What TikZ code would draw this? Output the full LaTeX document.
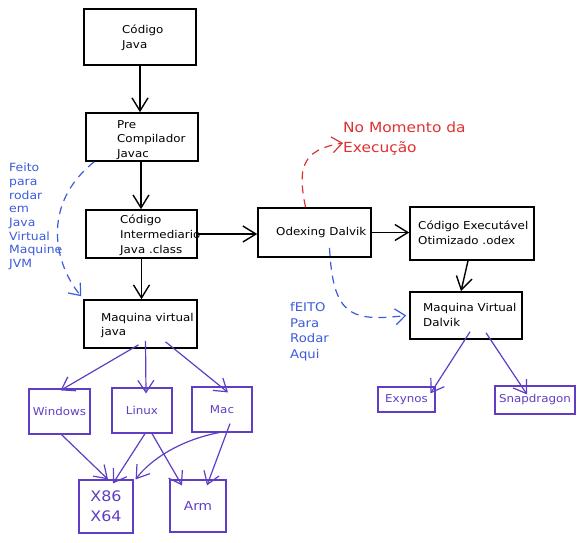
\documentclass[tikz,border=0pt]{standalone}
\usepackage{fontspec}
\setmainfont[FakeStretch=1.1]{DejaVu Sans}
\usetikzlibrary{arrows.meta}
\definecolor{vio}{HTML}{5F3DC4}
\definecolor{blu}{HTML}{3B5BDB}
\definecolor{redd}{HTML}{E03131}
\begin{document}
\begin{tikzpicture}[x=1pt,y=-1pt,
  bbox/.style={draw=black, line width=1.6pt, inner sep=0pt},
  btxt/.style={align=left, anchor=west, inner sep=0pt, font=\fontsize{10.8}{14.8}\selectfont},
  vbox/.style={draw=vio, line width=1.2pt, text=vio, align=center, font=\fontsize{10.8}{15}\selectfont, inner sep=2pt},
  arr/.style={-{Straight Barb[length=13pt,width=16pt]}, line width=1.4pt},
  varr/.style={draw=vio, -{Straight Barb[length=12pt,width=16pt]}, line width=1.2pt},
  dsh/.style={-{Straight Barb[length=10pt,width=16pt]}, line width=1.2pt, dash pattern=on 8pt off 6pt},
  lbl/.style={align=left, anchor=north west, inner sep=0pt}]
\useasboundingbox (0,0) rectangle (585,542);
% black boxes
\node[bbox, minimum width=112pt, minimum height=56pt] (cj) at (140,37) {};
\node[bbox, minimum width=112pt, minimum height=48pt] (pc) at (142,137) {};
\node[bbox, minimum width=111pt, minimum height=48pt] (ci) at (141.5,234) {};
\node[bbox, minimum width=113pt, minimum height=49pt] (od) at (314.5,232.5) {};
\node[bbox, minimum width=124pt, minimum height=53pt] (ex) at (472,233.5) {};
\node[bbox, minimum width=112pt, minimum height=47pt] (mvd) at (466,315.5) {};
\node[bbox, minimum width=113pt, minimum height=48pt] (mvj) at (140.5,324) {};
% box texts
\node[btxt] (cjt) at (122,38) {Código\\Java};
\node[btxt] (pct) at (117,140) {Pre\\Compilador\\Javac};
\node[btxt] (cit) at (120,235) {Código\\Intermediario\\Java .class};
\node[btxt] (odt) at (276,233) {Odexing Dalvik};
\node[btxt] (ext) at (418,233) {Código Executável\\Otimizado .odex};
\node[btxt] (mvdt) at (423,315) {Maquina Virtual\\Dalvik};
\node[btxt] (mvjt) at (101,325.5) {Maquina virtual\\java};
% violet boxes
\node[vbox, minimum width=61pt, minimum height=45pt] (win) at (59.5,411.5) {Windows};
\node[vbox, minimum width=60pt, minimum height=45pt] (lin) at (142,410.5) {Linux};
\node[vbox, minimum width=60pt, minimum height=45pt] (mac) at (222,409.5) {Mac};
\node[vbox, minimum width=54pt, minimum height=53pt, font=\fontsize{14.5}{20}\selectfont] (x86) at (106,506.5) {X86\\X64};
\node[vbox, minimum width=56pt, minimum height=52pt, font=\fontsize{12.5}{15}\selectfont] (arm) at (198,506) {Arm};
\node[vbox, minimum width=57pt, minimum height=25pt] (exy) at (406.5,399.5) {Exynos};
\node[vbox, minimum width=80pt, minimum height=28pt] (snap) at (535,400) {Snapdragon};
% labels
\node[lbl, text=blu, font=\fontsize{11.3}{13.7}\selectfont] (jvm) at (9,163) {Feito\\para\\rodar\\em\\Java\\Virtual\\Maquine\\JVM};
\node[lbl, text=blu, font=\fontsize{12}{15.7}\selectfont] (aqui) at (290,302) {fEITO\\Para\\Rodar\\Aqui};
\node[lbl, text=redd, font=\fontsize{14}{20}\selectfont] (exe) at (343,122) {No Momento da\\Execução};
% black arrows
\draw[arr] (cj.south) -- (cj.south |- pc.north);
\draw[arr] ([xshift=-1pt]pc.south) -- ([xshift=-1pt]pc.south |- ci.north);
\draw[arr] (ci.east) -- (ci.east -| od.west);
\draw[arr] (ci.south) -- (ci.south |- mvj.north);
\draw[arr] (od.east) -- (od.east -| ex.west);
\draw[arr] ([xshift=-4pt]ex.south) -- ([xshift=-5pt]mvd.north);
% dashed
\draw[dsh, blu] ([xshift=9pt]pc.south west) .. controls (40,205) and (55,265) .. ([shift={(-2pt,3pt)}]mvj.north west);
\draw[dsh, redd] ([xshift=-9pt]od.north) .. controls (298,170) and (300,150) .. (exe.west |- 0,143) coordinate (rtip);
\draw[dsh, blu] ([shift={(15pt,10pt)}]od.south) .. controls (333,315) and (350,322) .. ([xshift=-3pt]mvd.west);
% violet arrows
\draw[varr] ([shift={(-2pt,4pt)}]mvj.south) -- ([shift={(1pt,-2pt)}]win.north);
\draw[varr] ([shift={(5pt,8pt)}]mvj.south) -- ([shift={(4pt,-6pt)}]lin.north);
\draw[varr] ([shift={(25pt,7pt)}]mvj.south) -- ([shift={(6pt,-6pt)}]mac.north);
\draw[varr] ([xshift=2pt]win.south) -- ([xshift=2pt]x86.north);
\draw[varr] ([xshift=3pt]lin.south) -- ([shift={(7pt,-4pt)}]x86.north);
\draw[varr] ([xshift=10pt]lin.south) -- ([shift={(-16pt,-6pt)}]arm.north);
\draw[varr] ([xshift=-3pt]mac.south) .. controls (180,440) and (150,460) .. ([shift={(2pt,0pt)}]x86.north east);
\draw[varr] ([shift={(8pt,9pt)}]mac.south) -- ([shift={(9pt,-6pt)}]arm.north);
\draw[varr] ([shift={(4pt,8pt)}]mvd.south) -- ([shift={(24pt,-7pt)}]exy.north);
\draw[varr] ([shift={(20pt,7pt)}]mvd.south) -- ([shift={(-8pt,-9pt)}]snap.north);
\end{tikzpicture}
\end{document}
